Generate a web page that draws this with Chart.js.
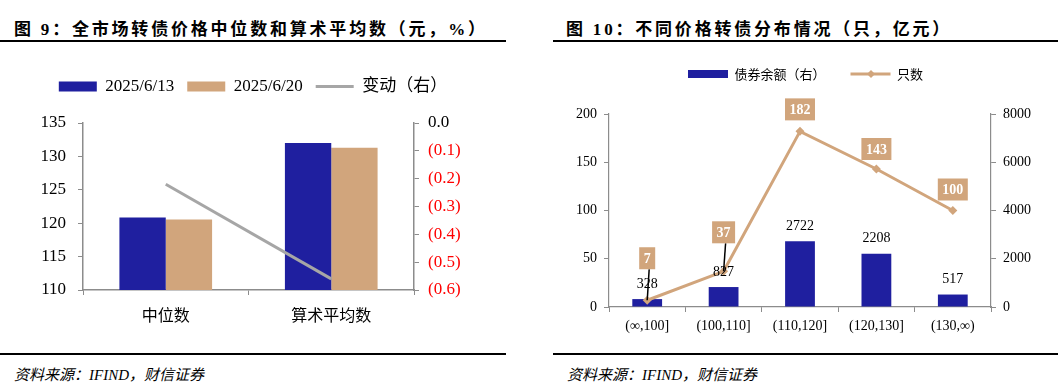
<!DOCTYPE html>
<html>
<head>
<meta charset="utf-8">
<script src="https://cdn.jsdelivr.net/npm/chart.js@4.4.1/dist/chart.umd.min.js"></script>
<style>
  body { margin: 0; width: 1058px; height: 390px; background: #fff; position: relative; overflow: hidden; }
  .title { position: absolute; top: 15px; line-height: 22px; font: bold 17px "Liberation Serif", "Noto Sans CJK SC", serif; letter-spacing: 2.8px; white-space: nowrap; color: #000; }
  .rule { position: absolute; height: 2px; background: #000; }
  .src { position: absolute; top: 363px; line-height: 18px; font: italic 15px "Liberation Serif", "Noto Sans CJK SC", serif; white-space: nowrap; color: #000; }
  canvas { position: absolute; top: 40px; }
</style>
</head>
<body>
<div class="title" style="left:14px">图 9：全市场转债价格中位数和算术平均数（元，%）</div>
<div class="rule" style="left:0;width:506px;top:40px"></div>
<div class="title" style="left:566px">图 10：不同价格转债分布情况（只，亿元）</div>
<div class="rule" style="left:553px;width:505px;top:40px"></div>

<canvas id="priceChart" width="506" height="300" style="left:0"></canvas>
<canvas id="binChart" width="505" height="300" style="left:553px"></canvas>

<div class="rule" style="left:0;width:506px;top:353px"></div>
<div class="rule" style="left:553px;width:505px;top:353px"></div>
<div class="src" style="left:14px">资料来源：IFIND，财信证券</div>
<div class="src" style="left:567px">资料来源：IFIND，财信证券</div>

<script>
// Chart 9: median / mean price of convertibles
const priceCats = ['中位数', '算术平均数'];
const price0613 = [120.86, 132.02];
const price0620 = [120.57, 131.28];
const priceChg = [-0.22, -0.56];

// Chart 10: distribution by price bucket
const bins = ['(∞,100]', '(100,110]', '(110,120]', '(120,130]', '(130,∞)'];
const binBalance = [328, 827, 2722, 2208, 517];
const binCount = [7, 37, 182, 143, 100];

const BLUE = '#1F1F9F';
const TAN = '#D1A57C';
const GREY = '#A6A6A6';
const AXIS = '#8C8C8C';
const SERIF = '"Liberation Serif", "Noto Sans CJK SC", serif';
const CJK = '"Noto Sans CJK SC", sans-serif';

// legend items: rect for bars, line for lines
function legendItems(chart) {
    return chart.data.datasets.map((ds, i) => {
        const isLine = ds.type === 'line';
        const col = isLine ? ds.borderColor : ds.backgroundColor;
        return {
            text: ds.label,
            fillStyle: col,
            strokeStyle: col,
            lineWidth: isLine ? 3 : 0,
            pointStyle: isLine ? 'line' : 'rect',
            fontColor: '#000',
            hidden: false,
            datasetIndex: i
        };
    });
}

function axisGrid() {
    return { display: true, drawOnChartArea: false, drawTicks: true, tickLength: 5, color: AXIS };
}

new Chart(document.getElementById('priceChart'), {
    type: 'bar',
    data: {
        labels: priceCats,
        datasets: [
            { label: '2025/6/13', data: price0613, backgroundColor: BLUE, yAxisID: 'y', order: 1 },
            { label: '2025/6/20', data: price0620, backgroundColor: TAN, yAxisID: 'y', order: 1 },
            { type: 'line', label: '变动（右）', data: priceChg, borderColor: GREY, backgroundColor: GREY,
              borderWidth: 3, pointRadius: 0, yAxisID: 'y1', order: 0 }
        ]
    },
    options: {
        responsive: false,
        animation: false,
        layout: { padding: { top: 25, left: 0, right: 0, bottom: 0 } },
        datasets: { bar: { categoryPercentage: 0.56, barPercentage: 1 } },
        plugins: {
            legend: {
                position: 'top',
                labels: {
                    usePointStyle: true, pointStyleWidth: 38, boxHeight: 10, padding: 13,
                    color: '#000', font: { family: SERIF, size: 17 },
                    generateLabels: legendItems
                }
            },
            subtitle: { display: true, text: '', font: { size: 2, lineHeight: 1 }, padding: { top: 0, bottom: 16 }, weight: 500 },
            tooltip: { enabled: false }
        },
        scales: {
            x: {
                grid: axisGrid(),
                border: { color: AXIS, width: 1.5 },
                ticks: { color: '#000', font: { family: CJK, size: 16 }, padding: 10, maxRotation: 0 },
                afterFit: s => { s.height = 50; }
            },
            y: {
                position: 'left', min: 110, max: 135,
                grid: axisGrid(),
                border: { color: AXIS, width: 1.5 },
                ticks: { stepSize: 5, color: '#000', font: { family: SERIF, size: 17 }, padding: 12 },
                afterFit: s => { s.width = 83; }
            },
            y1: {
                position: 'right', min: -0.6, max: 0,
                grid: axisGrid(),
                border: { color: AXIS, width: 1.5 },
                ticks: {
                    stepSize: 0.1, font: { family: SERIF, size: 17 }, padding: 9,
                    color: ctx => Math.abs(ctx.tick.value) < 1e-9 ? '#000' : '#FF0000',
                    callback: v => Math.abs(v) < 1e-9 ? '0.0' : '(' + Math.abs(v).toFixed(1) + ')'
                },
                afterFit: s => { s.width = 92; }
            }
        }
    }
});

// value labels for chart 10
const binLabels = {
    id: 'binLabels',
    afterDatasetsDraw(chart, args, opts) {
        const ctx = chart.ctx;
        const bars = chart.getDatasetMeta(0).data;
        const pts = chart.getDatasetMeta(1).data;
        const barVals = chart.data.datasets[0].data;
        const lineVals = chart.data.datasets[1].data;
        ctx.save();
        ctx.textAlign = 'center';
        ctx.textBaseline = 'middle';
        ctx.font = '14px ' + SERIF;
        ctx.fillStyle = '#000';
        bars.forEach((b, i) => ctx.fillText(String(barVals[i]), b.x, b.y - 15));

        ctx.font = 'bold 14px ' + SERIF;
        pts.forEach((p, i) => {
            const text = String(lineVals[i]);
            const w = ctx.measureText(text).width + 9;
            const h = 22;
            const cy = p.y - opts.lift[i];
            if (opts.lift[i] > 30) {
                ctx.strokeStyle = '#000';
                ctx.lineWidth = 1.5;
                ctx.beginPath();
                ctx.moveTo(p.x + 2, cy + h / 2);
                ctx.lineTo(p.x, p.y);
                ctx.stroke();
            }
            ctx.fillStyle = TAN;
            ctx.fillRect(p.x - w / 2, cy - h / 2, w, h);
            ctx.fillStyle = '#fff';
            ctx.fillText(text, p.x, cy + 1);
        });
        ctx.restore();
    },
    afterDraw(chart) {
        // diamond marker on the line legend swatch
        const box = chart.legend.legendHitBoxes[1];
        if (!box) return;
        const ctx = chart.ctx;
        const x = box.left + 20.5, y = box.top + box.height / 2, r = 4;
        ctx.save();
        ctx.fillStyle = TAN;
        ctx.beginPath();
        ctx.moveTo(x, y - r); ctx.lineTo(x + r, y); ctx.lineTo(x, y + r); ctx.lineTo(x - r, y);
        ctx.closePath();
        ctx.fill();
        ctx.restore();
    }
};

new Chart(document.getElementById('binChart'), {
    type: 'bar',
    data: {
        labels: bins,
        datasets: [
            { label: '债券余额（右）', data: binBalance, backgroundColor: BLUE, yAxisID: 'y1', order: 1 },
            { type: 'line', label: '只数', data: binCount, borderColor: TAN, backgroundColor: TAN,
              borderWidth: 3, pointStyle: 'rectRot', pointRadius: 4.5, pointBorderWidth: 0,
              yAxisID: 'y', order: 0 }
        ]
    },
    plugins: [binLabels],
    options: {
        responsive: false,
        animation: false,
        layout: { padding: { top: 2.5, left: 0, right: 0, bottom: 0 } },
        datasets: { bar: { categoryPercentage: 1, barPercentage: 0.39 } },
        plugins: {
            legend: {
                position: 'top',
                labels: {
                    usePointStyle: true, pointStyleWidth: 40, boxHeight: 8, padding: 25,
                    color: '#000', font: { family: CJK, size: 13 },
                    generateLabels: legendItems
                }
            },
            subtitle: { display: true, text: '', font: { size: 2, lineHeight: 1 }, padding: { top: 0, bottom: 21.5 }, weight: 500 },
            tooltip: { enabled: false },
            binLabels: { lift: [42, 39, 22, 20, 21] }
        },
        scales: {
            x: {
                grid: axisGrid(),
                border: { color: AXIS, width: 1.2 },
                ticks: { color: '#000', font: { family: SERIF, size: 14 }, padding: 6, maxRotation: 0, autoSkip: false },
                afterFit: s => { s.height = 33; }
            },
            y: {
                position: 'left', min: 0, max: 200,
                grid: axisGrid(),
                border: { color: AXIS, width: 1.2 },
                ticks: { stepSize: 50, color: '#000', font: { family: SERIF, size: 14 }, padding: 7 },
                afterFit: s => { s.width = 56; }
            },
            y1: {
                position: 'right', min: 0, max: 8000,
                grid: axisGrid(),
                border: { color: AXIS, width: 1.2 },
                ticks: { stepSize: 2000, color: '#000', font: { family: SERIF, size: 14 }, padding: 7, callback: v => String(v) },
                afterFit: s => { s.width = 67; }
            }
        }
    }
});
</script>
</body>
</html>
